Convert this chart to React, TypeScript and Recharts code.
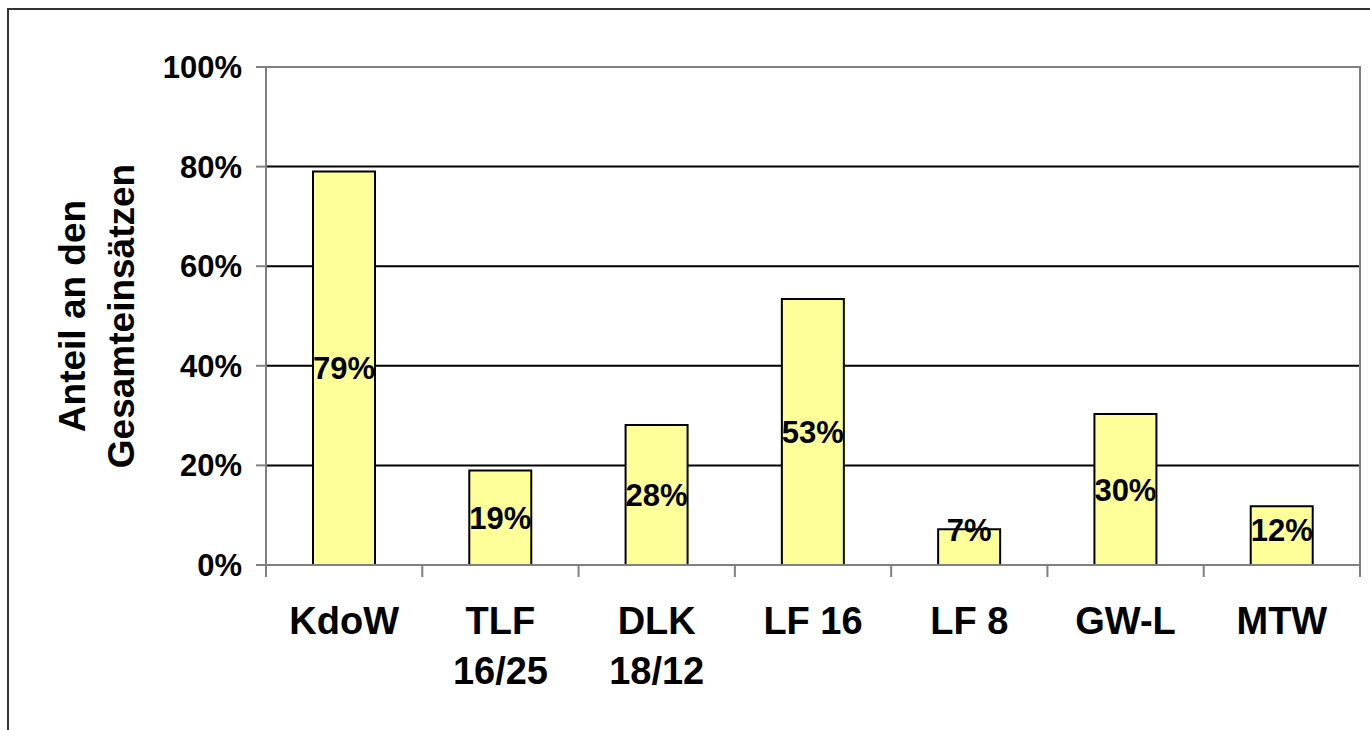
import React from 'react';
import { BarChart, Bar, XAxis, YAxis, CartesianGrid, ReferenceArea, LabelList } from 'recharts';

const categories = ['KdoW', 'TLF\n16/25', 'DLK\n18/12', 'LF 16', 'LF 8', 'GW-L', 'MTW'];
const shares = [79, 19, 28.1, 53.4, 7.2, 30.3, 11.8];
const yTicks = [0, 20, 40, 60, 80, 100];
const gridValues = [20, 40, 60, 80];

const data = categories.map((name, i) => ({ name, share: shares[i] }));

const W = 1370;
const H = 730;
const Y_AXIS_W = 266;
const X_AXIS_H = 165;
const TOP = 67;
const RIGHT = 10;
const AXIS_Y = H - X_AXIS_H;
const BAND = (W - Y_AXIS_W - RIGHT) / categories.length;
const FONT = '"Liberation Sans", Arial, sans-serif';
const GREY = '#808080';

const XTick = (props: any) => {
  const { x, payload, index } = props;
  const lines = String(payload.value).split('\n');
  const half = BAND / 2;
  return (
    <g>
      <line x1={x - half} x2={x - half} y1={AXIS_Y} y2={AXIS_Y + 12} stroke={GREY} strokeWidth={2} />
      {index === categories.length - 1 && (
        <line x1={x + half} x2={x + half} y1={AXIS_Y} y2={AXIS_Y + 12} stroke={GREY} strokeWidth={2} />
      )}
      <text x={x} y={634} textAnchor="middle" fontFamily={FONT} fontWeight="bold" fontSize={38} fill="#000">
        {lines.map((l, i) => (
          <tspan key={i} x={x} dy={i === 0 ? 0 : 50}>{l}</tspan>
        ))}
      </text>
    </g>
  );
};

const ValueLabel = (props: any) => {
  const { x, y, width, height, value } = props;
  const cy = Math.min(y + height / 2, y + height - 35);
  return (
    <text x={x + width / 2} y={cy} dy="0.36em" textAnchor="middle" fontFamily={FONT} fontWeight="bold" fontSize={31} fill="#000">
      {`${Math.round(value)}%`}
    </text>
  );
};

const YTitle = () => {
  const cy = (TOP + AXIS_Y) / 2;
  const style = { fontFamily: FONT, fontWeight: 'bold' as const, fontSize: 37, fill: '#000' };
  return (
    <g>
      <text x={85} y={cy} transform={`rotate(-90, 85, ${cy})`} textAnchor="middle" {...style}>Anteil an den</text>
      <text x={134} y={cy} transform={`rotate(-90, 134, ${cy})`} textAnchor="middle" {...style}>Gesamteinsätzen</text>
    </g>
  );
};

export default function App() {
  return (
    <div style={{ position: 'absolute', left: 0, top: 0, width: W, height: H, background: '#fff', overflow: 'hidden' }}>
      <div style={{ position: 'absolute', left: 7, top: 8, width: W, height: H, borderTop: '2px solid #333', borderLeft: '2px solid #333' }} />
      <div style={{ position: 'absolute', left: 0, top: 0 }}>
        <BarChart width={W} height={H} data={data} margin={{ top: TOP, right: RIGHT, bottom: 0, left: 0 }} barSize={62}>
          <CartesianGrid vertical={false} horizontalValues={gridValues} stroke="#000" strokeWidth={2} />
          <ReferenceArea y1={0} y2={100} fill="none" fillOpacity={0} stroke={GREY} strokeWidth={2} />
          <XAxis
            dataKey="name"
            height={X_AXIS_H}
            interval={0}
            tickLine={false}
            axisLine={{ stroke: GREY, strokeWidth: 2 }}
            tick={<XTick />}
          />
          <YAxis
            width={Y_AXIS_W}
            domain={[0, 100]}
            ticks={yTicks}
            tickFormatter={(v: number) => `${v}%`}
            tickSize={10}
            tickMargin={14}
            axisLine={{ stroke: GREY, strokeWidth: 2 }}
            tickLine={{ stroke: GREY, strokeWidth: 2 }}
            tick={{ fontFamily: FONT, fontWeight: 'bold', fontSize: 31, fill: '#000' }}
            label={{ content: () => <YTitle /> }}
          />
          <Bar dataKey="share" fill="#FFFF99" stroke="#000" strokeWidth={2} isAnimationActive={false}>
            <LabelList dataKey="share" content={<ValueLabel />} />
          </Bar>
        </BarChart>
      </div>
    </div>
  );
}
